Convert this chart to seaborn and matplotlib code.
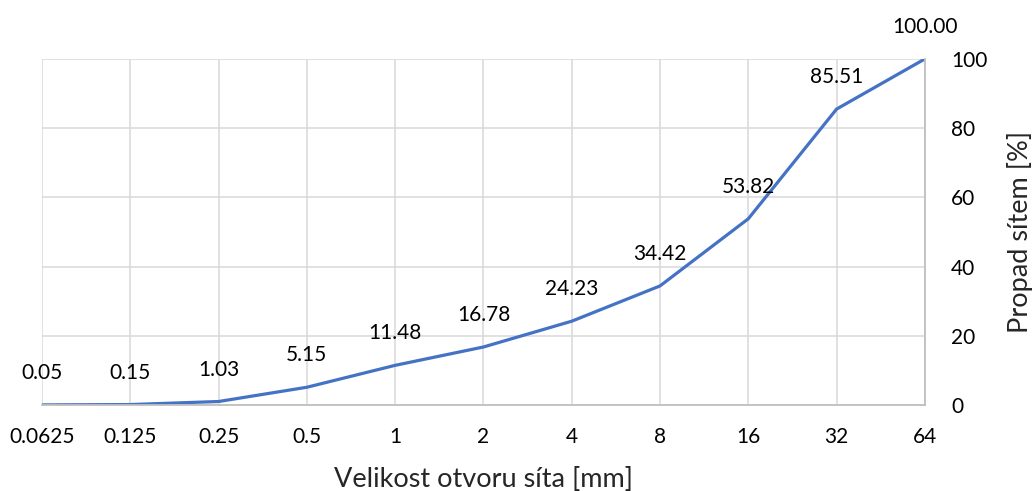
import matplotlib
matplotlib.use("Agg")
import matplotlib.pyplot as plt
import seaborn as sns

# sieve sizes and passing percentages
sizes = ["0.0625", "0.125", "0.25", "0.5", "1", "2", "4", "8", "16", "32", "64"]
passing = [0.05, 0.15, 1.03, 5.15, 11.48, 16.78, 24.23, 34.42, 53.82, 85.51, 100.00]

sns.set_style("white")
plt.rcParams["font.family"] = ["Lato", "DejaVu Sans"]

fig = plt.figure(figsize=(10.35, 4.91), dpi=100)
ax = fig.add_axes([0.0406, 0.175, 0.853, 0.705])

sns.lineplot(x=sizes, y=passing, ax=ax, color="#4472C4", linewidth=2.3, sort=False)

for x, y in zip(sizes, passing):
    ax.annotate(f"{y:.2f}", (x, y), xytext=(0, 23), textcoords="offset points",
                ha="center", va="center", fontsize=15, color="black")

ax.set_xlim(0, len(sizes) - 1)
ax.set_ylim(0, 100)
ax.set_yticks([0, 20, 40, 60, 80, 100])
ax.yaxis.tick_right()
ax.yaxis.set_label_position("right")
ax.tick_params(axis="both", length=0, labelsize=15, colors="black")
ax.tick_params(axis="x", pad=16)
ax.tick_params(axis="y", pad=19)

ax.grid(True, color="#D9D9D9", linewidth=1.1)
ax.set_axisbelow(True)
for side in ["left", "top"]:
    ax.spines[side].set_visible(False)
for side in ["bottom", "right"]:
    ax.spines[side].set_color("#BFBFBF")
    ax.spines[side].set_linewidth(1.3)

ax.set_xlabel("Velikost otvoru síta [mm]", fontsize=19.5, labelpad=14)
ax.set_ylabel("Propad sítem [%]", fontsize=19.5, labelpad=14)

fig.savefig("out.png", dpi=100)
